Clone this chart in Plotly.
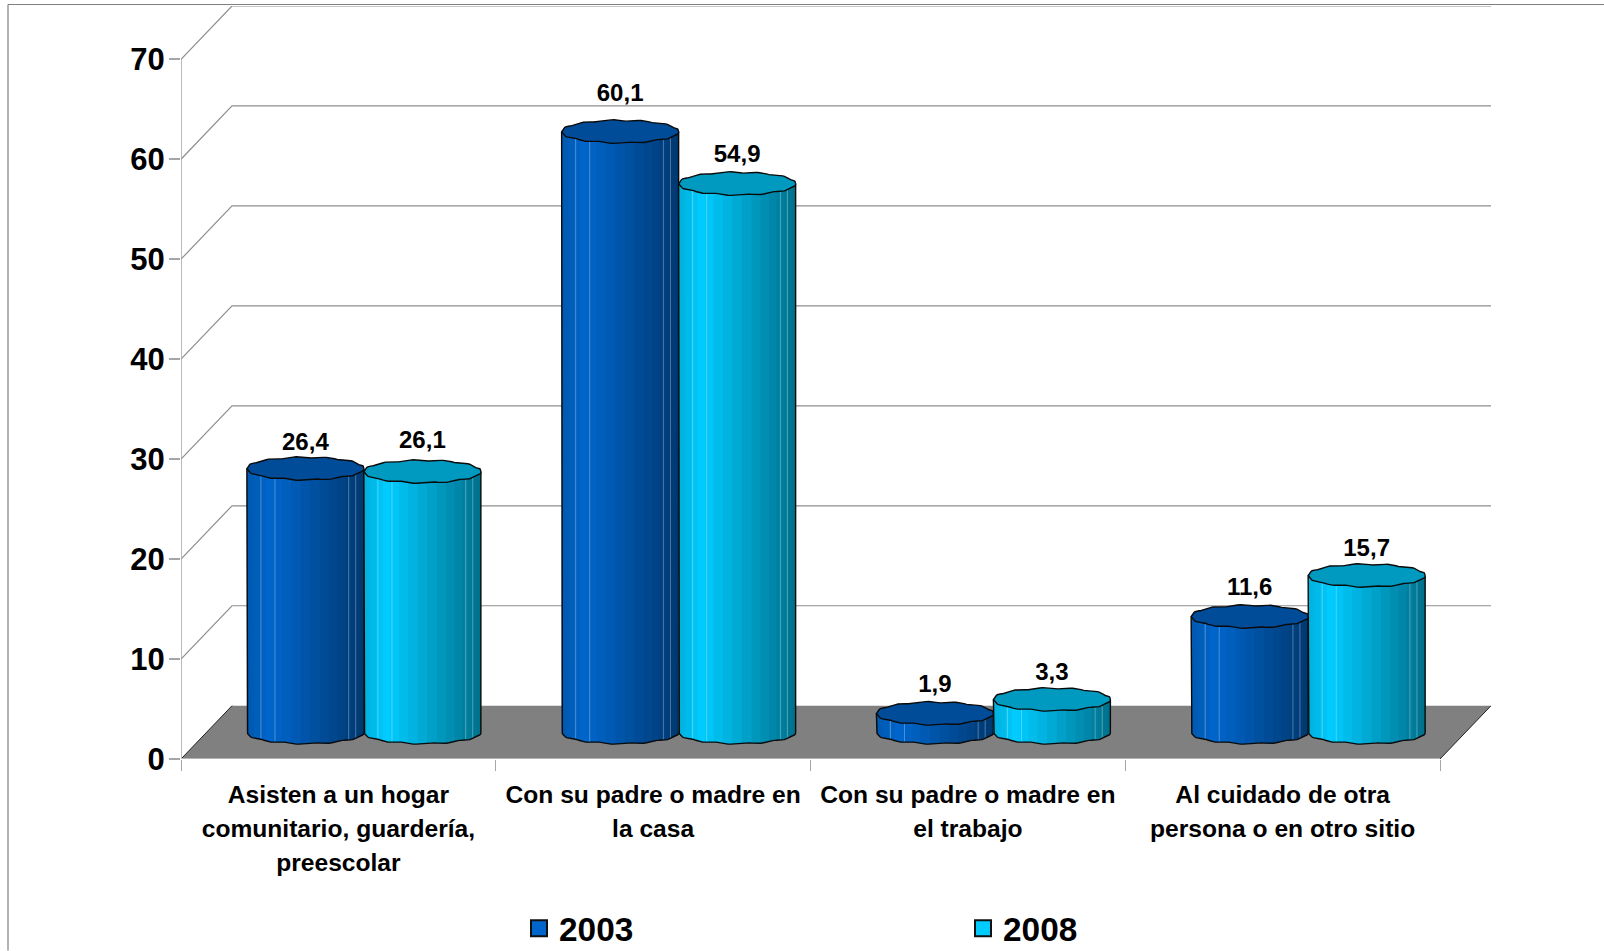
import math
import plotly.graph_objects as go

# ---------- data ----------
category_lines = [
    ["Asisten a un hogar", "comunitario, guardería,", "preescolar"],
    ["Con su padre o madre en", "la casa"],
    ["Con su padre o madre en", "el trabajo"],
    ["Al cuidado de otra", "persona o en otro sitio"],
]
values_2003 = [26.4, 60.1, 1.9, 11.6]
values_2008 = [26.1, 54.9, 3.3, 15.7]
y_ticks = [0, 10, 20, 30, 40, 50, 60, 70]
label_lift_2003 = [2.45, 3.65, 2.75, 2.75]
label_lift_2008 = [2.95, 2.75, 2.55, 2.55]

# ---------- geometry of the pseudo-3D box (axis units) ----------
W, H = 1604, 951
PLOT_L, PLOT_R, PLOT_T, PLOT_B = 181, 1491, 6, 759.3
X_LO, X_HI = -0.5, 3.5
PX_PER_CAT = (1440 - 181) / 4
DEPTH_X = 51 / PX_PER_CAT
DEPTH_Y = 5.33
R_X = 58.5 / PX_PER_CAT
R_Y = 1.12
RIPPLE = 0.07
FACETS = 19
STEP = 3
SEAMS = [0.12, 0.24, 0.87, 0.93]
BLUE, CYAN = (0, 102, 204), (0, 204, 255)
TOP_SHADE = 0.75
FS_TICK, FS_CAT, FS_LABEL, FS_LEG = 31, 24.6, 24, 33.4
FONT = "Liberation Sans"


def shade(rgb, f):
    return "rgb(%d,%d,%d)" % tuple(round(c * f) for c in rgb)


def facet_factor(t):
    if t < 0.2:
        return 0.86 + 0.14 * t / 0.2
    return 1.0 - 0.45 * (t - 0.2) / 0.8


def rim(cx, cy, deg):
    a = math.radians(deg)
    return (cx + R_X * math.cos(a),
            cy + R_Y * math.sin(a) + RIPPLE * math.sin(12 * a))


def arc(cx, cy, d0, d1):
    n = max(1, round(abs(d1 - d0) / STEP))
    return [rim(cx, cy, d0 + (d1 - d0) * k / n) for k in range(n + 1)]


def add_poly(xs, ys, pts):
    xs.extend(p[0] for p in pts)
    ys.extend(p[1] for p in pts)
    xs.append(None)
    ys.append(None)


fig = go.Figure()
common = dict(hoverinfo="skip", showlegend=False, cliponaxis=False)

# back wall grid lines
gx, gy = [], []
for v in y_ticks[1:]:
    add_poly(gx, gy, [(X_LO, v), (X_LO + DEPTH_X, v + DEPTH_Y), (X_HI + DEPTH_X, v + DEPTH_Y)])
fig.add_trace(go.Scatter(x=gx, y=gy, mode="lines", line=dict(color="#8e8e8e", width=1.2), **common))

# floor
fig.add_trace(go.Scatter(
    x=[X_LO, X_HI, X_HI + DEPTH_X, X_LO + DEPTH_X, X_LO],
    y=[0, 0, DEPTH_Y, DEPTH_Y, 0],
    mode="lines", fill="toself", fillcolor="#808080", line=dict(width=0), **common))
fx, fy = [], []
add_poly(fx, fy, [(X_LO, 0), (X_LO + DEPTH_X, DEPTH_Y)])
add_poly(fx, fy, [(X_HI, 0), (X_HI + DEPTH_X, DEPTH_Y)])
fig.add_trace(go.Scatter(x=fx, y=fy, mode="lines", line=dict(color="#222222", width=1), **common))

# left wall edge and front edge
fig.add_trace(go.Scatter(x=[X_LO, X_LO], y=[0, max(y_ticks)], mode="lines",
                         line=dict(color="#a6a6a6", width=1.5), **common))
fig.add_trace(go.Scatter(x=[X_LO, X_HI], y=[0, 0], mode="lines",
                         line=dict(color="#c4c4c4", width=1.5), **common))

base = DEPTH_Y / 2
centre_shift = DEPTH_X / 2


def add_series(name, values, rgb, side):
    cxs = [i + centre_shift + side * R_X for i in range(len(values))]
    for f in range(FACETS):
        d0 = 180 - 180 * f / FACETS
        # each facet runs on under the next one, so no background shows between them
        d1 = max(0, 180 - 180 * (f + 2) / FACETS)
        mid = 180 - 180 * (f + 0.5) / FACETS
        t = (1 + math.cos(math.radians(mid))) / 2
        xs, ys = [], []
        for cx, v in zip(cxs, values):
            low = [(x, base - (y - base)) for x, y in arc(cx, base, d0, d1)]
            add_poly(xs, ys, low + [(low[-1][0], base + v), (low[0][0], base + v), low[0]])
        fig.add_trace(go.Scatter(x=xs, y=ys, mode="lines", fill="toself",
                                 fillcolor=shade(rgb, facet_factor(t)), line=dict(width=0), **common))
    # thin pale seams between some facets
    mx, my = [], []
    for cx, v in zip(cxs, values):
        for s in SEAMS:
            deg = math.degrees(math.acos(2 * s - 1))
            px, py = rim(cx, base, deg)
            add_poly(mx, my, [(px, base - (py - base)), (px, base + v)])
    fig.add_trace(go.Scatter(x=mx, y=my, mode="lines",
                             line=dict(color="rgba(255,255,255,0.3)", width=1), **common))
    # silhouette
    sx, sy = [], []
    for cx, v in zip(cxs, values):
        low = [(x, base - (y - base)) for x, y in arc(cx, base, 180, 0)]
        add_poly(sx, sy, [(low[0][0], base + v)] + low + [(low[-1][0], base + v)])
    fig.add_trace(go.Scatter(x=sx, y=sy, mode="lines", line=dict(color="#0a0a0a", width=1.4), **common))
    # top caps
    tx, ty = [], []
    for cx, v in zip(cxs, values):
        add_poly(tx, ty, arc(cx, base + v, 0, 360))
    fig.add_trace(go.Scatter(x=tx, y=ty, mode="lines", fill="toself",
                             fillcolor=shade(rgb, TOP_SHADE),
                             line=dict(color="#0a0a0a", width=1.4), **common))


add_series("2003", values_2003, BLUE, -1)
add_series("2008", values_2008, CYAN, 1)

# value labels
for values, lifts, side in ((values_2003, label_lift_2003, -1), (values_2008, label_lift_2008, 1)):
    fig.add_trace(go.Scatter(
        x=[i + centre_shift + side * R_X for i in range(len(values))],
        y=[base + v + l for v, l in zip(values, lifts)],
        text=[f"{v:.1f}".replace(".", ",") for v in values],
        mode="text", textposition="middle center",
        textfont=dict(family=FONT, size=FS_LABEL, color="black", weight="bold"), **common))

# legend entries
for name, rgb in (("2003", BLUE), ("2008", CYAN)):
    fig.add_trace(go.Scatter(x=[None], y=[None], mode="markers", name=name, hoverinfo="skip",
                             marker=dict(symbol="square", size=16, color=shade(rgb, 1),
                                         line=dict(color="#111111", width=2))))

# carrier of the category labels
fig.add_trace(go.Scatter(x=[0], y=[0], xaxis="x2", mode="markers", marker=dict(opacity=0), **common))

x_range = [X_LO, X_LO + (PLOT_R - PLOT_L) / PX_PER_CAT]
y_range = [0, (PLOT_B - PLOT_T) / 10.0]
pxf = lambda p: (p - PLOT_L) / (PLOT_R - PLOT_L)
pyf = lambda p: (PLOT_B - p) / (PLOT_B - PLOT_T)
cat_text = ["<br>".join(f"<span style='font-size:{FS_CAT}px'>{s}</span>" for s in lines)
            for lines in category_lines]

fig.update_layout(
    width=W, height=H, autosize=False,
    margin=dict(l=PLOT_L, r=W - PLOT_R, t=PLOT_T, b=H - PLOT_B, autoexpand=False),
    paper_bgcolor="white", plot_bgcolor="white",
    font=dict(family=FONT, color="black"),
    xaxis=dict(range=x_range, tickvals=[X_LO + k for k in range(5)], ticks="outside", ticklen=11,
               tickcolor="#a6a6a6", tickwidth=1, showticklabels=False, showgrid=False,
               zeroline=False, showline=False),
    xaxis2=dict(range=x_range, overlaying="x", side="bottom", anchor="y", tickvals=[0, 1, 2, 3],
                ticktext=cat_text, ticks="", ticklen=0, showgrid=False, zeroline=False, showline=False,
                tickfont=dict(family=FONT, size=26, color="black", weight="bold"), ticklabelstandoff=17),
    yaxis=dict(range=y_range, tickvals=y_ticks, ticks="outside", ticklen=11, tickcolor="#a6a6a6",
               tickwidth=1.5, showgrid=False, zeroline=False, showline=False, ticklabelstandoff=-2,
               tickfont=dict(family=FONT, size=FS_TICK, color="black", weight="bold")),
    legend=dict(orientation="h", x=pxf(519), xanchor="left", y=pyf(929), yanchor="middle",
                entrywidth=399, entrywidthmode="pixels", itemwidth=30,
                font=dict(family=FONT, size=FS_LEG, color="black", weight="bold"),
                bgcolor="rgba(0,0,0,0)", itemclick=False, itemdoubleclick=False),
    shapes=[dict(type="line", xref="paper", yref="paper", x0=pxf(8), x1=pxf(8), y0=pyf(4.5), y1=pyf(H),
                 line=dict(color="#808080", width=1.2)),
            dict(type="line", xref="paper", yref="paper", x0=pxf(8), x1=pxf(W), y0=pyf(4.5), y1=pyf(4.5),
                 line=dict(color="#808080", width=1.2))],
)

fig.write_html("out.html", config=dict(displayModeBar=False, responsive=False),
               default_width=f"{W}px", default_height=f"{H}px",
               post_script="document.body.style.margin='0';document.body.style.overflow='hidden';")
